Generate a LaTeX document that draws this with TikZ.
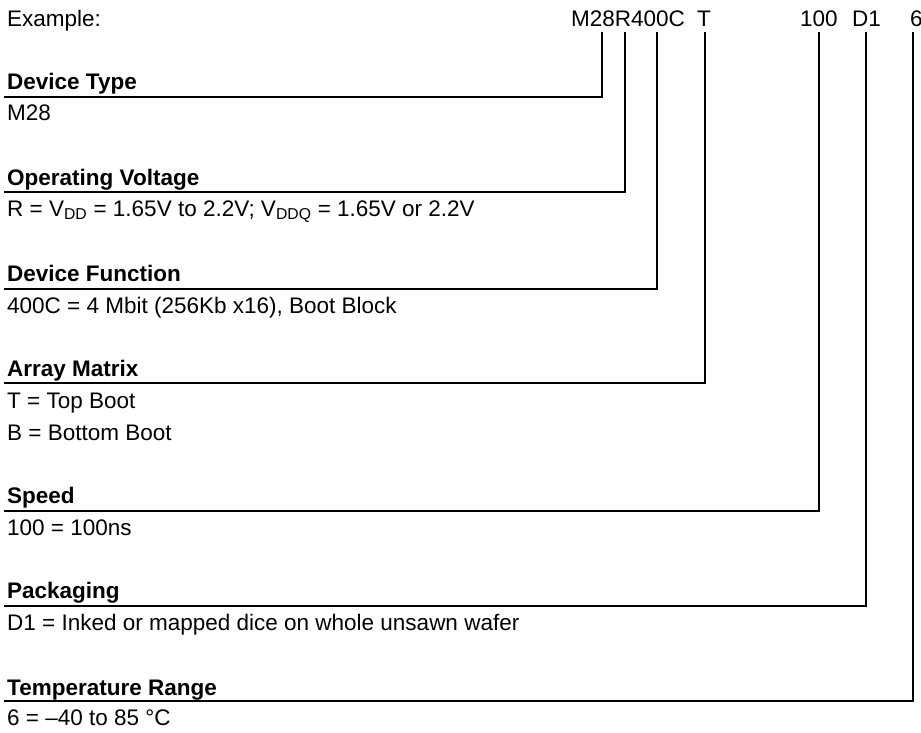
\documentclass[tikz,border=0pt]{standalone}
\usepackage{fontspec}
\setmainfont{Liberation Sans}
\begin{document}
\begin{tikzpicture}[x=1pt,y=-1pt,
  txt/.style={anchor=base west,inner sep=0pt,font=\fontsize{22.5}{27}\selectfont},
  hdr/.style={txt,font=\fontsize{22.5}{27}\selectfont\bfseries},
  lead/.style={line width=1.3pt,line cap=rect}]
\useasboundingbox (0,0) rectangle (921,732);
% top row
\node[txt] (ex) at (7,26) {Example:};
\node[txt] (code) at (571,26) {M28R400C};
\node[txt] (cT) at (697,26) {T};
\node[txt] (c100) at (800,26) {100};
\node[txt] (cD1) at (852,26) {D1};
\node[txt] (c6) at (910,26) {6};
% headers
\node[hdr] (h1) at (7,89) {Device Type};
\node[hdr] (h2) at (7,185) {Operating Voltage};
\node[hdr] (h3) at (7,281) {Device Function};
\node[hdr] (h4) at (7,376) {Array Matrix};
\node[hdr] (h5) at (7,503) {Speed};
\node[hdr] (h6) at (7,598) {Packaging};
\node[hdr] (h7) at (7,695) {Temperature Range};
% descriptions
\node[txt] (d1) at (7,120) {M28};
\node[txt] (d2) at (7,216) {R = V\textsubscript{DD} = 1.65V to 2.2V; V\textsubscript{DDQ} = 1.65V or 2.2V};
\node[txt] (d3) at (7,313) {400C = 4 Mbit (256Kb x16), Boot Block};
\node[txt] (d4a) at (7,408) {T = Top Boot};
\node[txt] (d4b) at (7,440) {B = Bottom Boot};
\node[txt] (d5) at (7,535) {100 = 100ns};
\node[txt] (d6) at (7,630) {D1 = Inked or mapped dice on whole unsawn wafer};
\node[txt] (d7) at (7,725) {6 = \textendash 40 to 85 °C};
% lead coordinates
\coordinate (t1) at (602,33); \coordinate (e1) at (5,97);
\coordinate (t2) at (625,33); \coordinate (e2) at (5,192);
\coordinate (t3) at (657,33); \coordinate (e3) at (5,289);
\coordinate (t4) at (705,33); \coordinate (e4) at (5,383);
\coordinate (t5) at (819,33); \coordinate (e5) at (5,511);
\coordinate (t6) at (866,33); \coordinate (e6) at (5,606);
\coordinate (t7) at (913,33); \coordinate (e7) at (5,701);
\foreach \i in {1,...,7} {\draw[lead] (t\i) |- (e\i);}
\end{tikzpicture}
\end{document}
